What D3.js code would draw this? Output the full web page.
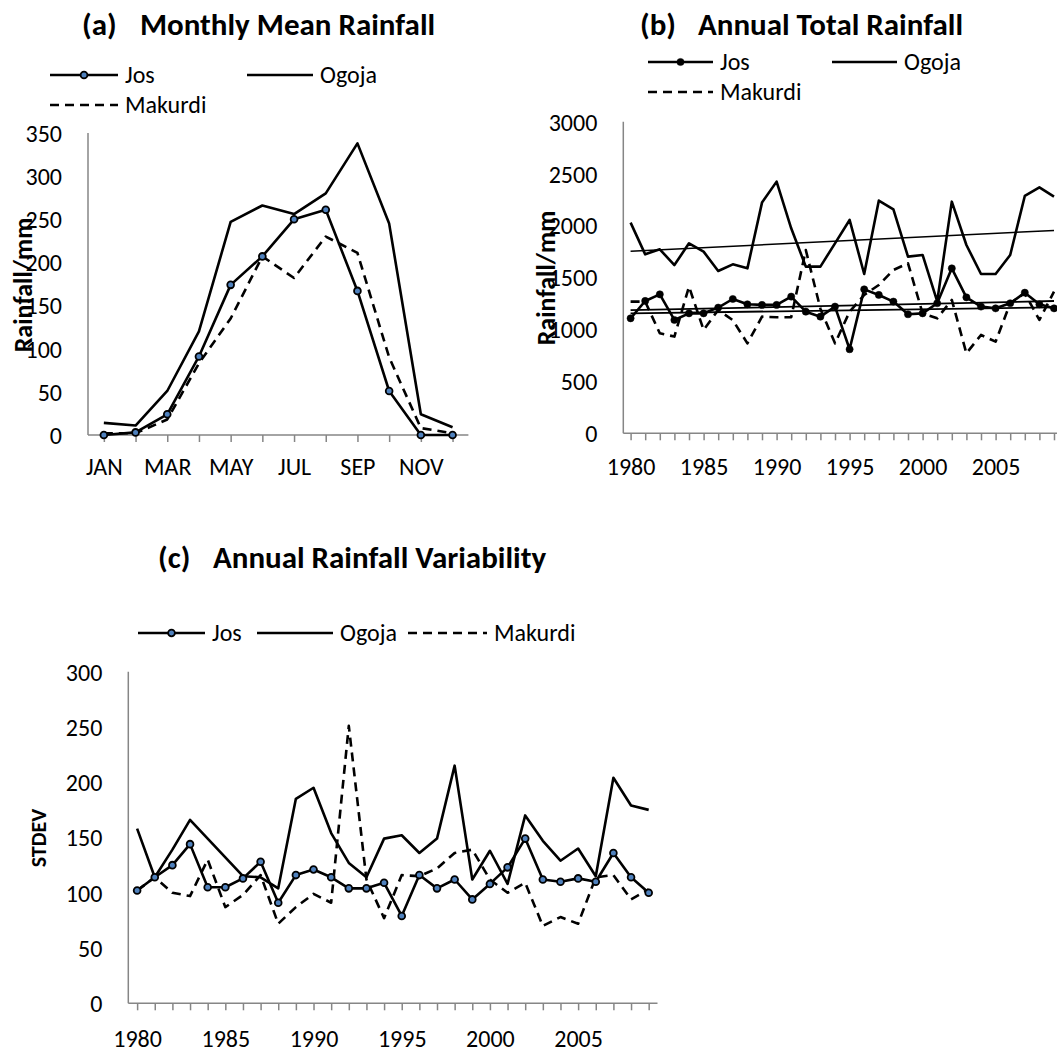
<!DOCTYPE html>
<html>
<head>
<meta charset="utf-8">
<script src="https://cdn.jsdelivr.net/npm/d3@7"></script>
<style>
  html, body { margin: 0; padding: 0; background: #fff; }
  svg { display: block; font-family: Carlito, Calibri, Lato, "Open Sans", sans-serif; }
  .title { font-weight: bold; font-size: 31px; fill: #000; }
  .lab { font-size: 24px; fill: #000; }
  .ylab { font-weight: bold; fill: #000; }
  .axis path, .axis line { stroke: #868686; stroke-width: 1.5; }
  .axis text { font-size: 24px; fill: #000; font-family: Carlito, Calibri, Lato, "Open Sans", sans-serif; }
</style>
</head>
<body>
<script>
// ---------- data ----------
const months = ["JAN","FEB","MAR","APR","MAY","JUN","JUL","AUG","SEP","OCT","NOV","DEC"];
const monthLabels = ["JAN","MAR","MAY","JUL","SEP","NOV"];
const josMonthly     = [0, 3, 24, 91, 174, 207, 250, 261, 167, 51, 0, 0];
const ogojaMonthly   = [14, 11, 51, 120, 247, 266, 256, 280, 338, 245, 24, 9];
const makurdiMonthly = [2, 2, 18, 83, 135, 207, 182, 230, 211, 90, 8, 2];

const years = [1980,1981,1982,1983,1984,1985,1986,1987,1988,1989,1990,1991,1992,1993,1994,
               1995,1996,1997,1998,1999,2000,2001,2002,2003,2004,2005,2006,2007,2008,2009];
const yearLabels = [1980,1985,1990,1995,2000,2005];

const josAnnual     = [1107,1274,1338,1091,1155,1155,1210,1293,1242,1236,1236,1316,1171,1123,1220,
                       809,1386,1332,1268,1146,1155,1252,1588,1309,1220,1203,1252,1354,1242,1203];
const ogojaAnnual   = [2028,1723,1771,1620,1829,1749,1563,1627,1588,2221,2423,1974,1605,1605,1829,
                       2054,1534,2240,2156,1701,1717,1270,2230,1813,1534,1534,1717,2285,2368,2278];
const makurdiAnnual = [1268,1268,963,931,1412,995,1187,1090,866,1123,1117,1117,1765,1200,866,
                       1170,1332,1428,1572,1637,1155,1107,1284,770,947,882,1252,1348,1091,1364];

const josStd     = [102,114,125,144,105,105,113,128,91,116,121,114,104,104,109,
                    79,116,104,112,94,108,123,149,112,110,113,110,136,114,100];
const ogojaStd   = [158,114,139,166,149,132,115,114,104,185,195,154,127,114,149,
                    152,136,149,215,112,138,108,170,147,129,140,115,204,179,175];
const makurdiStd = [102,114,100,97,130,87,98,116,72,87,99,91,251,112,77,
                    116,115,122,136,139,112,100,109,70,78,72,114,116,94,103];

// ---------- setup ----------
const W = 1057, H = 1052;
const svg = d3.select("body").append("svg").attr("width", W).attr("height", H);
svg.append("rect").attr("width", W).attr("height", H).attr("fill", "#fff");

const DASH = "9,6";
const LW = 2.6;

function linReg(vals) {
  const n = vals.length;
  const xs = d3.range(n);
  const mx = d3.mean(xs), my = d3.mean(vals);
  let sxy = 0, sxx = 0;
  xs.forEach((x, i) => { sxy += (x - mx) * (vals[i] - my); sxx += (x - mx) * (x - mx); });
  const b = sxy / sxx, a = my - b * mx;
  return [a, a + b * (n - 1)];
}

function panel(cfg) {
  const g = svg.append("g");
  const x = d3.scalePoint().domain(cfg.cats).range([cfg.x0, cfg.x1]).padding(0.5);
  const y = d3.scaleLinear().domain([0, cfg.ymax]).range([cfg.y0, cfg.y1]);

  // x axis
  const xa = g.append("g").attr("class", "axis").attr("transform", `translate(0,${cfg.y0})`)
    .call(d3.axisBottom(x).tickSizeInner(7).tickSizeOuter(0).tickPadding(cfg.xpad)
      .tickFormat(d => cfg.xLabels.includes(d) ? String(d) : ""));
  xa.select(".domain").attr("d", `M${cfg.x0},0H${cfg.x1}`);
  // y axis
  const ya = g.append("g").attr("class", "axis").attr("transform", `translate(${cfg.x0},0)`)
    .call(d3.axisLeft(y).tickValues(cfg.yticks).tickSize(0).tickPadding(cfg.ypad).tickFormat(d3.format("d")));
  ya.select(".domain").attr("d", `M0,${cfg.y0}V${cfg.y1}`);
  ya.selectAll("text").attr("dy", "0.35em");

  const line = d3.line().x((d, i) => x(cfg.cats[i])).y(d => y(d));

  // trend lines
  if (cfg.trend) {
    cfg.series.forEach(s => {
      const [a, b] = linReg(s.vals);
      g.append("line")
        .attr("x1", x(cfg.cats[0])).attr("y1", y(a))
        .attr("x2", x(cfg.cats[cfg.cats.length - 1])).attr("y2", y(b))
        .attr("stroke", "#000").attr("stroke-width", s.name === "Ogoja" ? 1.6 : 1.8);
    });
  }

  const order = ["Makurdi", "Ogoja", "Jos"];
  order.forEach(nm => {
    const s = cfg.series.find(t => t.name === nm);
    g.append("path").datum(s.vals).attr("d", line)
      .attr("fill", "none").attr("stroke", "#000").attr("stroke-width", LW)
      .attr("stroke-linejoin", "round")
      .attr("stroke-dasharray", nm === "Makurdi" ? DASH : null);
    if (nm === "Jos") {
      g.selectAll(null).data(s.vals).enter().append("circle")
        .attr("cx", (d, i) => x(cfg.cats[i])).attr("cy", d => y(d))
        .attr("r", cfg.markerR)
        .attr("fill", cfg.markerFill).attr("stroke", "#000").attr("stroke-width", cfg.markerSW);
    }
  });

  // title
  g.append("text").attr("class", "title").attr("x", cfg.tx1).attr("y", cfg.ty).attr("dy", "0.35em").text(cfg.t1);
  g.append("text").attr("class", "title").attr("x", cfg.tx2).attr("y", cfg.ty).attr("dy", "0.35em").text(cfg.t2);

  // y label
  g.append("text").attr("class", "ylab")
    .attr("transform", `translate(${cfg.ylx},${cfg.yly}) rotate(-90)`)
    .attr("text-anchor", "middle").attr("dy", "0.35em")
    .style("font-size", cfg.ylSize + "px")
    .text(cfg.ylabel);

  // legend
  cfg.legend.forEach(L => {
    const lg = g.append("g");
    lg.append("line").attr("x1", L.x1).attr("x2", L.x2).attr("y1", L.y).attr("y2", L.y)
      .attr("stroke", "#000").attr("stroke-width", LW)
      .attr("stroke-dasharray", L.name === "Makurdi" ? DASH : null);
    if (L.name === "Jos") {
      lg.append("circle").attr("cx", (L.x1 + L.x2) / 2).attr("cy", L.y).attr("r", cfg.markerR)
        .attr("fill", cfg.markerFill).attr("stroke", "#000").attr("stroke-width", cfg.markerSW);
    }
    lg.append("text").attr("class", "lab").attr("x", L.x2 + 7).attr("y", L.y).attr("dy", "0.35em")
      .text(L.name);
  });
}

// (a)
panel({
  cats: months, xLabels: monthLabels,
  x0: 88, x1: 468.4, y0: 435, y1: 133, ymax: 350, yticks: d3.range(0, 351, 50),
  xpad: 16, ypad: 26, markerR: 3.4, markerSW: 1.8, markerFill: "#4F81BD", trend: false,
  series: [{name: "Jos", vals: josMonthly}, {name: "Ogoja", vals: ogojaMonthly}, {name: "Makurdi", vals: makurdiMonthly}],
  t1: "(a)", t2: "Monthly Mean Rainfall", tx1: 82, tx2: 140, ty: 24,
  ylabel: "Rainfall/mm", ylx: 23, yly: 285, ylSize: 26,
  legend: [
    {name: "Jos", x1: 50, x2: 118, y: 75},
    {name: "Ogoja", x1: 247, x2: 313, y: 75},
    {name: "Makurdi", x1: 50, x2: 118, y: 105}
  ]
});

// (b)
panel({
  cats: years, xLabels: yearLabels,
  x0: 623.3, x1: 623.3 + 30 * 14.6, y0: 433.3, y1: 121.7, ymax: 3000, yticks: d3.range(0, 3001, 500),
  xpad: 18, ypad: 26, markerR: 3.6, markerSW: 0.5, markerFill: "#000", trend: true,
  series: [{name: "Jos", vals: josAnnual}, {name: "Ogoja", vals: ogojaAnnual}, {name: "Makurdi", vals: makurdiAnnual}],
  t1: "(b)", t2: "Annual Total Rainfall", tx1: 640, tx2: 698, ty: 24,
  ylabel: "Rainfall/mm", ylx: 546, yly: 278, ylSize: 26,
  legend: [
    {name: "Jos", x1: 648, x2: 713, y: 62},
    {name: "Ogoja", x1: 832, x2: 897, y: 62},
    {name: "Makurdi", x1: 648, x2: 713, y: 92}
  ]
});

// (c)
panel({
  cats: years, xLabels: yearLabels,
  x0: 128.3, x1: 128.3 + 30 * 17.64, y0: 1003.3, y1: 671.7, ymax: 300, yticks: d3.range(0, 301, 50),
  xpad: 20, ypad: 26, markerR: 3.4, markerSW: 1.8, markerFill: "#4F81BD", trend: false,
  series: [{name: "Jos", vals: josStd}, {name: "Ogoja", vals: ogojaStd}, {name: "Makurdi", vals: makurdiStd}],
  t1: "(c)", t2: "Annual Rainfall Variability", tx1: 158, tx2: 213, ty: 557,
  ylabel: "STDEV", ylx: 38, yly: 838, ylSize: 22,
  legend: [
    {name: "Jos", x1: 138, x2: 205, y: 633},
    {name: "Ogoja", x1: 257, x2: 333, y: 633},
    {name: "Makurdi", x1: 408, x2: 487, y: 633}
  ]
});
</script>
</body>
</html>
